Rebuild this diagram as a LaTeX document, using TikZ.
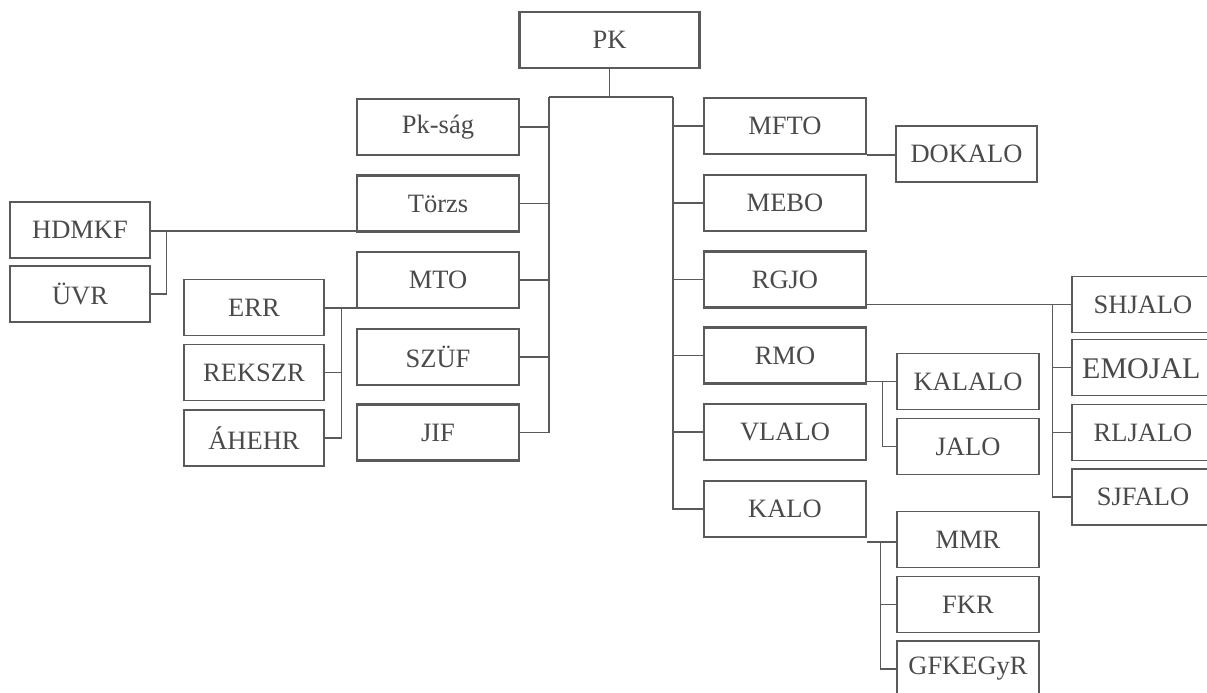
\documentclass[tikz,border=0pt]{standalone}
\usepackage{fontspec}
\setmainfont{Liberation Serif}
\definecolor{ln}{HTML}{5A5A5A}
\definecolor{tx}{HTML}{4A4A4A}
\begin{document}
\begin{tikzpicture}[x=1pt,y=-1pt,
  base/.style={draw=ln,inner sep=0pt,text=tx,font=\fontsize{26.5}{30}\selectfont,minimum height=56pt},
  mainbox/.style={base,line width=2.2pt,minimum width=162pt},
  leafbox/.style={base,line width=1.4pt,minimum width=141pt},
  conn/.style={draw=ln,line width=1.5pt}]
\clip (0,0) rectangle (1207,693);
\fill[white] (0,0) rectangle (1207,693);
% root
\node[mainbox,minimum width=180pt] (PK) at (609.5,40) {PK};
% left column
\node[mainbox] (Pksag) at (438,127) {Pk-ság};
\node[mainbox] (Torzs) at (438,203.5) {Törzs};
\node[mainbox] (MTO) at (438,280) {MTO};
\node[mainbox] (SZUF) at (438,357) {SZÜF};
\node[mainbox] (JIF) at (438,432.5) {JIF};
% right column
\node[mainbox] (MFTO) at (785,126) {MFTO};
\node[mainbox] (MEBO) at (785,203) {MEBO};
\node[mainbox] (RGJO) at (785,279.5) {RGJO};
\node[mainbox] (RMO) at (785,355.5) {RMO};
\node[mainbox] (VLALO) at (785,432) {VLALO};
\node[mainbox] (KALO) at (785,509) {KALO};
% far left
\node[leafbox,minimum width=140pt] (HDMKF) at (80,230) {HDMKF};
\node[leafbox,minimum width=140pt] (UVR) at (80,294) {ÜVR};
\node[leafbox,minimum width=140pt] (ERR) at (254,307.5) {ERR};
\node[leafbox,minimum width=140pt] (REKSZR) at (254,372.5) {REKSZR};
\node[leafbox,minimum width=140pt] (AHEHR) at (254,438) {ÁHEHR};
% right leaves
\node[leafbox] (DOKALO) at (966.5,154) {DOKALO};
\node[leafbox,minimum width=142pt] (KALALO) at (968,381.5) {KALALO};
\node[leafbox,minimum width=142pt] (JALO) at (968,446.5) {JALO};
\node[leafbox,minimum width=142pt] (MMR) at (968,539.5) {MMR};
\node[leafbox,minimum width=142pt] (FKR) at (968,604.5) {FKR};
\node[leafbox,minimum width=142pt] (GFKEGyR) at (968,669) {GFKEGyR};
% far right
\node[leafbox,minimum width=142pt] (SHJALO) at (1143,304.5) {SHJALO};
\node[leafbox,minimum width=142pt] (EMOJAL) at (1143,367.5) {};
\node[anchor=west,inner sep=0pt,text=tx,font=\fontsize{30}{32}\selectfont] (EMOJALt) at (1082,369) {EMOJAL};
\node[leafbox,minimum width=142pt] (RLJALO) at (1143,432.5) {RLJALO};
\node[leafbox,minimum width=142pt] (SJFALO) at (1143,497) {SJFALO};
% connectors from root
\coordinate (lt) at (549,97);
\coordinate (rt) at (673,97);
\draw[conn] (PK.south) -- (PK.south |- lt);
\draw[conn] (lt) -- (rt);
\draw[conn] (lt) |- (JIF.east);
\draw[conn] (rt) |- (KALO.west);
\foreach \n in {Pksag,Torzs,MTO,SZUF}{\draw[conn] (\n.east) -- (\n.east -| lt);}
\foreach \n in {MFTO,MEBO,RGJO,RMO,VLALO}{\draw[conn] (\n.west) -- (\n.west -| rt);}
% Torzs -> HDMKF, UVR
\draw[conn] ([yshift=-1]HDMKF.east) -- ([yshift=-1]HDMKF.east -| Torzs.west);
\draw[conn] ([xshift=16,yshift=-1]HDMKF.east) |- (UVR.east);
% MTO -> ERR, REKSZR, AHEHR
\draw[conn] ([yshift=-0.5]ERR.east) -- ([yshift=-0.5]ERR.east -| MTO.west);
\draw[conn] ([xshift=17,yshift=-0.5]ERR.east) |- (AHEHR.east);
\draw[conn] (REKSZR.east) -- ++(17,0);
% MFTO -> DOKALO
\draw[conn] ([yshift=-1]DOKALO.west) -- ([yshift=-1]DOKALO.west -| MFTO.east);
% RGJO -> right group
\draw[conn] (SHJALO.west) -- (SHJALO.west -| RGJO.east);
\draw[conn] ([xshift=-19]SHJALO.west) |- (SJFALO.west);
\draw[conn] (EMOJAL.west) -- ++(-19,0);
\draw[conn] (RLJALO.west) -- ++(-19,0);
% RMO -> KALALO, JALO
\draw[conn] (KALALO.west) -- (KALALO.west -| RMO.east);
\draw[conn] ([xshift=-14]KALALO.west) |- (JALO.west);
% KALO -> MMR, FKR, GFKEGyR
\draw[conn] ([yshift=-2.5]MMR.west) -- ([yshift=-2.5]MMR.west -| KALO.east);
\draw[conn] ([xshift=-16,yshift=-2.5]MMR.west) |- (GFKEGyR.west);
\draw[conn] (FKR.west) -- ++(-16,0);
\end{tikzpicture}
\end{document}
